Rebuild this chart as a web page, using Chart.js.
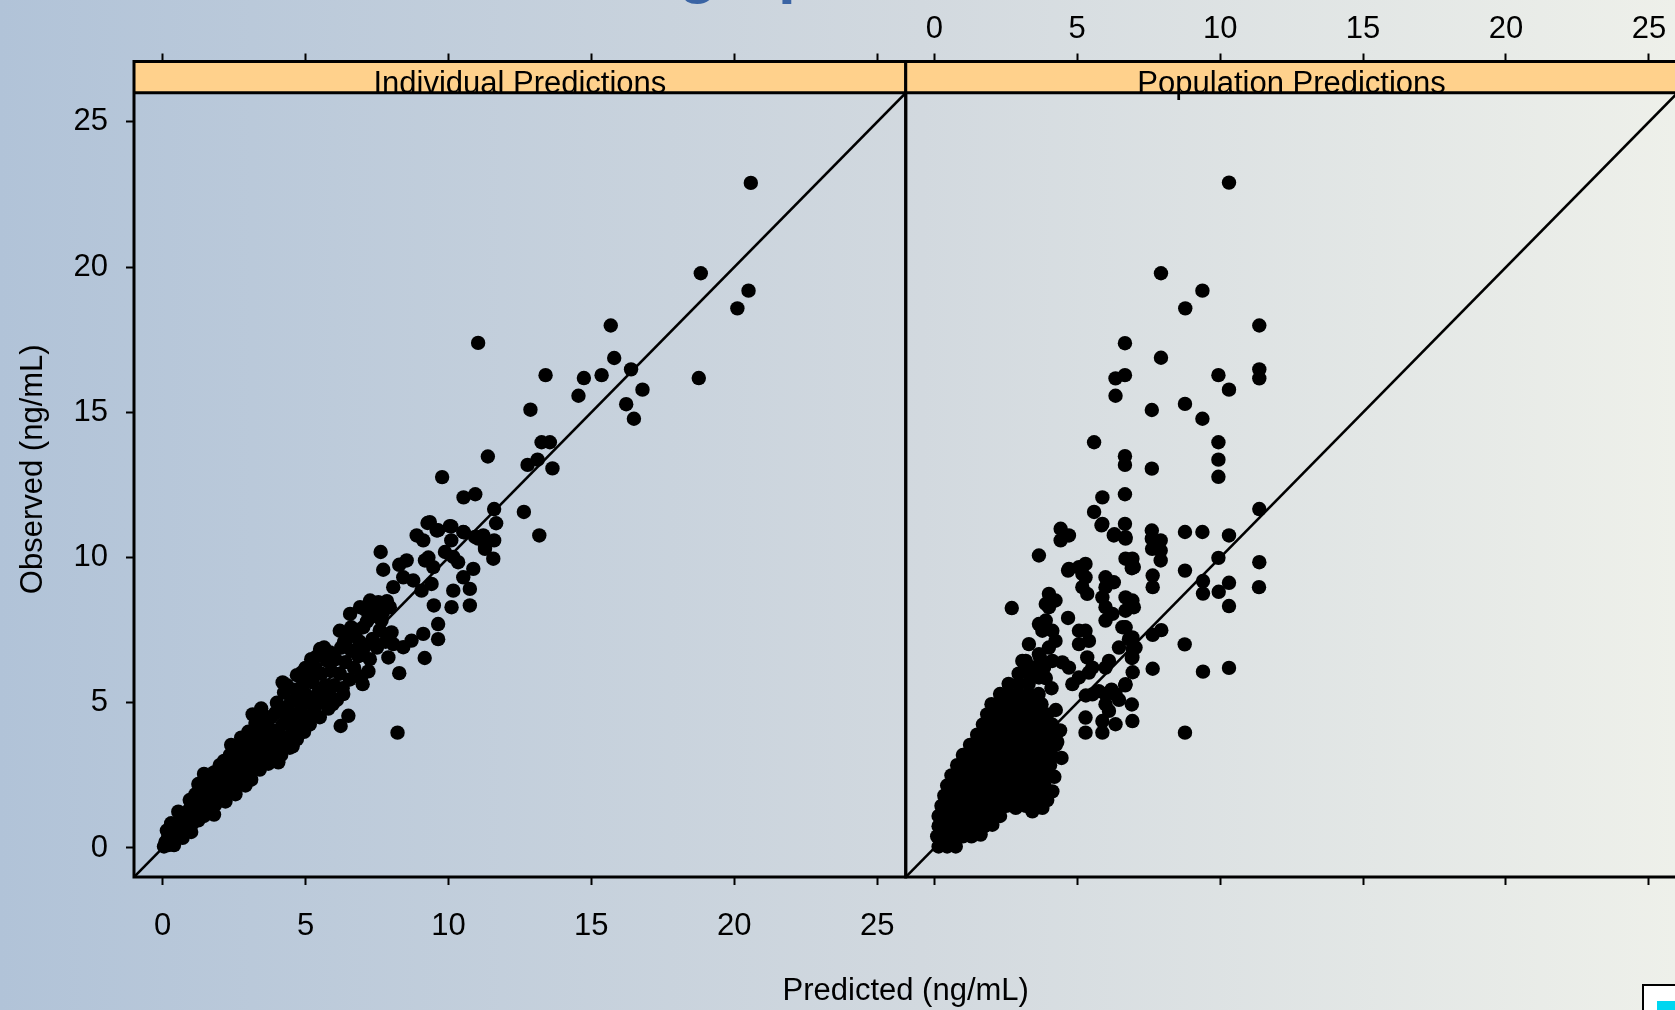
<!DOCTYPE html>
<html>
<head>
<meta charset="utf-8">
<title>Observed vs Predicted</title>
<script src="https://cdn.jsdelivr.net/npm/chart.js@4.4.1/dist/chart.umd.min.js"></script>
<style>
  html, body { margin: 0; padding: 0; overflow: hidden; }
  body {
    width: 1675px; height: 1010px; position: relative;
    background: linear-gradient(to right, #b1c3d8 0%, #d2d9df 55%, #eef0ea 100%);
  }
  #chart { position: absolute; left: 0; top: 0; }
</style>
</head>
<body>
<canvas id="chart" width="1700" height="1010"></canvas>
<script>
// ---- data ----
const panelNames = ['Individual Predictions', 'Population Predictions'];
const tickValues = [0, 5, 10, 15, 20, 25];
const axisMin = -1;
const axisMax = 26;
const xTitle = 'Predicted (ng/mL)';
const yTitle = 'Observed (ng/mL)';
const pageTitle = 'Goodness-of-fit graphs';
const identityLine = [[-1, -1], [26, 26]];

// Individual predictions: [predicted, observed]
const indivPoints = [
  [20.58,22.9],[18.83,19.79],[20.5,19.19],[20.11,18.58],[15.68,17.99],[11.04,17.39],[15.8,16.87],
  [16.39,16.48],[13.4,16.28],[14.74,16.18],[15.36,16.28],[18.76,16.18],[14.55,15.57],[16.79,15.78],
  [16.22,15.28],[16.49,14.78],[12.87,15.09],[13.26,13.97],[13.55,13.97],[11.38,13.48],[12.77,13.19],
  [13.12,13.37],[13.64,13.07],[9.78,12.77],[10.53,12.07],[10.94,12.18],[11.6,11.67],[12.64,11.57],
  [11.67,11.18],[11.6,10.59],[13.18,10.76],[10.1,11.07],[10.54,10.87],[11.07,10.7],[11.28,10.36],
  [10.1,10.59],[9.59,10.93],[9.35,11.22],
  [7.63,10.19],[7.72,9.58],[8.28,9.75],[8.54,9.9],[8.07,8.98],[8.42,9.32],[8.77,9.21],[9.06,8.86],
  [9.41,9.09],[9.49,8.35],[9.12,7.37],[9.64,7.71],[9.64,7.19],[9.17,6.54],[8.71,7.14],[8.42,6.91],
  [8.28,6.02],[7.2,6.08],[7.0,5.64],[7.9,6.56],[8.07,7.02],[8.01,7.42],[6.32,5.3],[6.5,4.55],
  [6.23,4.2],[8.22,3.97],[6.2,7.48],[6.56,8.06],[6.91,8.29],[7.26,8.52],[7.55,8.46],[4.87,6.04],
  [5.22,6.33],[5.51,6.85],[5.86,6.73],[6.73,7.42],[7.02,7.6],[7.26,7.94],[7.66,7.83],[7.95,8.29],
  [10.75,8.92],[10.75,8.35],[10.11,8.29],[10.17,8.86],[10.52,9.32],[10.87,9.61],[10.17,10.02],
  [9.88,10.19],[10.34,9.84],[9.3,10.0],[9.18,9.9],[9.47,9.67],[11.28,10.3],[11.57,9.96],[11.04,10.65],
  [8.89,10.76],[9.12,10.59],[9.64,10.94],[10.05,11.08],[10.52,10.88],[10.93,10.71],[11.22,10.76],[9.27,11.19],
  [0.05,0.05],[0.1,0.2],[0.2,0.1],[0.2,0.4],[0.3,0.25],[0.35,0.6],[0.45,0.4],[0.5,0.75],[0.6,0.55],
  [0.6,0.95],[0.7,0.75],[0.75,1.15],[0.85,0.7],[0.9,1.0],[0.95,1.35],[0.4,0.1],[0.7,0.35],
  [0.3,0.85],[0.55,1.25],[1.0,0.55],[0.15,0.6],
  [1.0,1.2],[1.05,0.85],[1.1,1.55],[1.2,1.25],[1.25,0.95],[1.3,1.7],[1.4,1.4],[1.45,1.1],[1.5,1.9],
  [1.55,1.6],[1.65,1.35],[1.7,2.05],[1.75,1.75],[1.85,1.5],[1.9,2.3],[1.95,1.95],[1.35,2.0],[1.6,2.3],[1.15,1.85],
  [0.95,1.65],[1.25,2.2],[1.5,1.2],[1.8,1.15],[1.45,2.55],[1.8,2.6],
  [2.0,1.65],[2.05,2.5],[2.1,2.15],[2.2,2.7],[2.25,2.35],[2.3,1.95],[2.4,2.8],[2.45,2.5],[2.5,2.1],
  [2.55,3.0],[2.6,2.65],[2.7,2.3],[2.75,3.15],[2.8,2.85],[2.85,2.45],[2.9,3.35],[2.95,3.0],[2.15,3.0],
  [2.35,3.2],[2.65,3.45],[2.0,2.85],[2.9,2.15],[2.2,1.6],[2.55,1.85],[2.4,3.55],[2.75,3.8],
  [3.0,2.6],[3.05,3.5],[3.1,3.15],[3.15,2.8],[3.2,3.7],[3.25,3.3],[3.3,2.95],[3.35,3.9],[3.4,3.5],
  [3.45,3.1],[3.5,4.1],[3.55,3.7],[3.6,3.3],[3.65,4.3],[3.7,3.9],[3.75,3.45],[3.8,4.5],[3.85,4.05],
  [3.9,3.6],[3.95,4.65],[3.0,4.0],[3.25,4.3],[3.55,4.55],[3.4,2.7],[3.85,3.15],[3.7,2.9],[3.1,2.35],
  [3.45,4.8],[3.15,4.6],
  [4.0,4.05],[4.05,3.6],[4.1,4.7],[4.15,3.2],[4.2,4.25],[4.25,5.35],[4.3,3.8],[4.35,4.85],[4.4,4.4],
  [4.45,3.45],[4.5,5.05],[4.55,4.0],[4.6,4.6],[4.65,5.45],[4.7,3.75],[4.75,5.15],[4.8,4.3],[4.85,4.85],
  [4.9,5.6],[4.95,4.0],[4.05,2.95],[4.55,3.5],[4.35,5.6],[4.0,5.0],[4.7,5.95],[4.2,5.7],
  [5.0,5.3],[5.05,4.5],[5.1,5.95],[5.15,4.25],[5.2,5.0],[5.25,5.7],[5.3,4.7],[5.35,6.2],[5.45,5.35],
  [5.5,4.5],[5.55,6.0],[5.6,5.0],[5.7,5.6],[5.75,6.45],[5.8,4.8],[5.85,5.25],[5.9,6.1],[5.95,4.95],
  [5.4,6.6],[5.65,6.9],[5.2,6.5],[5.0,6.2],
  [6.0,5.6],[6.05,6.5],[6.1,5.1],[6.2,6.0],[6.25,6.9],[6.3,5.5],[6.4,6.4],[6.45,7.2],[6.55,5.8],
  [6.6,6.8],[6.7,6.2],[6.8,7.5],[6.85,6.6],[6.95,5.9],[6.6,7.6],[6.35,7.1],[6.9,7.1],
  [7.05,6.9],[7.15,7.8],[7.25,6.5],[7.35,7.2],[7.45,8.0],[7.5,6.9],[7.6,7.5],[7.7,8.1],[7.8,7.1],
  [7.85,8.5],[7.4,8.3],[7.1,8.2]
];

// Population predictions: [predicted, observed]
const popPoints = [
  [10.31,22.91],[7.93,19.79],[9.38,19.19],[8.78,18.58],[11.37,17.99],[6.67,17.38],[7.93,16.88],
  [6.34,16.17],[6.67,16.28],[6.34,15.57],[9.94,16.28],[10.31,15.78],[11.37,16.48],[11.37,16.17],
  [7.61,15.08],[8.77,15.29],[9.38,14.78],[5.59,13.97],[6.67,13.49],[6.67,13.19],[7.61,13.06],
  [9.94,13.97],[9.94,13.37],[9.94,12.78],[5.88,12.07],[6.67,12.18],[5.59,11.57],[5.88,11.16],
  [6.67,11.16],[4.42,10.99],[4.71,10.76],[4.42,10.59],[6.28,10.76],[6.69,10.65],[7.61,10.93],
  [7.61,10.65],[7.92,10.59],[7.62,10.3],[7.92,10.24],[7.92,9.9],[8.77,10.88],[9.38,10.88],
  [10.31,10.76],[11.37,11.67],[9.94,9.99],[11.37,9.84],[3.66,10.07],[6.69,9.96],[6.93,9.96],
  [4.71,9.61],[5.29,9.78],[8.77,9.55],[6.91,9.63],[7.64,9.38],[7.64,8.98],[9.4,9.19],[9.4,8.76],
  [9.95,8.82],[10.31,9.13],[11.36,8.98],[10.31,8.33],[7.64,7.34],[7.94,7.5],[8.76,7.01],[7.64,6.17],
  [9.4,6.07],[10.31,6.2],[6.68,5.6],[6.91,4.94],[6.3,5.31],[6.68,7.59],[6.91,7.22],[6.94,6.85],
  [6.91,6.54],[6.94,6.05],[6.3,10.8],[5.85,11.11],[8.77,3.97],[6.93,4.37],[5.29,4.49],[5.29,3.97],
  [5.88,3.97],[6.34,4.26],[6.11,4.72],[5.53,5.29],[6.34,5.29],[5.99,4.95],[5.88,4.37],[6.69,5.64],
  [6.93,6.56],[7.04,6.9],[6.93,7.25],[6.69,7.6],[6.98,9.67],[6.69,10.7],[4.68,9.55],[5.18,9.44],
  [2.71,8.26],[4.68,7.92],[4.01,8.75],[4.13,8.52],[4.01,8.29],[5.06,9.67],[5.29,9.32],[5.18,8.98],
  [5.35,8.75],[5.99,9.32],[6.28,9.15],[5.99,8.98],[5.88,8.63],[5.99,8.29],[6.23,8.06],[5.99,7.83],
  [6.69,8.63],[6.93,8.52],[6.98,8.29],[6.69,8.17],[6.58,7.6],[6.81,7.19],[6.46,6.9],[6.11,6.44],
  [5.99,6.21],[5.29,7.48],[5.41,7.13],[5.06,7.02],[5.35,6.56],[5.53,6.21],[5.41,6.04],[5.06,5.87],
  [4.83,5.64],[4.71,6.21],[4.48,6.39],[4.13,6.44],[3.84,6.21],[3.66,5.87],[3.43,6.21],[3.2,6.44],
  [3.66,6.67],[4.01,6.9],[4.24,7.13],[3.78,7.48],[3.66,7.71],[3.9,7.83],[4.13,7.48],[3.9,8.4],
  [4.24,8.52],[3.31,7.02],[3.08,6.44],[5.06,7.48],[5.99,5.3],[6.46,5.1],[5.3,5.25],[5.75,5.4],
  [6.2,5.45],[4.13,1.95],[3.78,1.38],[3.43,1.26],[2.85,1.38],[2.03,0.8],[1.62,0.46],
  [4.3,3.65],[4.45,3.1],[4.2,2.45],[3.95,1.65],[4.25,4.75],[4.1,5.5],[3.9,5.85],[3.7,6.55],[4.4,4.05],
  [0.15,0.05],[0.45,0.05],[0.75,0.05],
  [0.1,0.4],[0.4,0.4],[0.7,0.4],[1.0,0.4],[1.3,0.4],
  [0.15,0.75],[0.45,0.75],[0.78,0.75],[1.1,0.75],[1.42,0.75],[1.75,0.75],
  [0.15,1.1],[0.45,1.1],[0.78,1.1],[1.1,1.1],[1.42,1.1],[1.75,1.1],[2.05,1.1],[2.3,1.1],
  [0.25,1.45],[0.58,1.45],[0.9,1.45],[1.22,1.45],[1.55,1.45],[1.88,1.45],[2.2,1.45],[2.52,1.45],[2.85,1.45],[3.2,1.45],[3.5,1.45],
  [0.35,1.8],[0.7,1.8],[1.05,1.8],[1.4,1.8],[1.75,1.8],[2.1,1.8],[2.45,1.8],[2.8,1.8],[3.15,1.8],[3.48,1.8],[3.75,1.8],
  [0.45,2.15],[0.8,2.15],[1.15,2.15],[1.5,2.15],[1.85,2.15],[2.2,2.15],[2.55,2.15],[2.9,2.15],[3.25,2.15],[3.6,2.15],[3.85,2.15],
  [0.6,2.5],[0.95,2.5],[1.3,2.5],[1.65,2.5],[2.0,2.5],[2.35,2.5],[2.7,2.5],[3.05,2.5],[3.4,2.5],[3.72,2.5],[3.95,2.5],
  [0.8,2.85],[1.12,2.85],[1.45,2.85],[1.8,2.85],[2.15,2.85],[2.5,2.85],[2.85,2.85],[3.2,2.85],[3.55,2.85],[3.85,2.85],[4.05,2.85],
  [1.0,3.2],[1.35,3.2],[1.7,3.2],[2.05,3.2],[2.4,3.2],[2.75,3.2],[3.1,3.2],[3.45,3.2],[3.8,3.2],[4.1,3.2],
  [1.25,3.55],[1.6,3.55],[1.95,3.55],[2.3,3.55],[2.65,3.55],[3.0,3.55],[3.35,3.55],[3.7,3.55],[4.0,3.55],[4.25,3.55],
  [1.5,3.9],[1.82,3.9],[2.15,3.9],[2.5,3.9],[2.85,3.9],[3.2,3.9],[3.55,3.9],[3.9,3.9],[4.2,3.9],
  [1.7,4.25],[2.05,4.25],[2.4,4.25],[2.75,4.25],[3.1,4.25],[3.45,4.25],[3.8,4.25],[4.12,4.25],
  [1.85,4.6],[2.2,4.6],[2.55,4.6],[2.9,4.6],[3.25,4.6],[3.6,4.6],[3.95,4.6],
  [2.0,4.95],[2.35,4.95],[2.7,4.95],[3.05,4.95],[3.4,4.95],[3.75,4.95],
  [2.3,5.3],[2.62,5.3],[2.95,5.3],[3.3,5.3],[3.65,5.3],
  [2.6,5.65],[2.95,5.65],[3.3,5.65],
  [2.95,6.0],[3.3,6.0],
  [3.15,6.35]
];

// ---- styling ----
const FONT_FAMILY = 'Arial, "Liberation Sans", Helvetica, sans-serif';
const labelFont = { family: FONT_FAMILY, size: 31, weight: 'normal' };
const bottomTickFont = { family: FONT_FAMILY, size: 31, weight: 'normal', lineHeight: 1.4 };
const stripColor = '#ffd18c';
const yTop = 27.08; // room for the strip above the panel
const dotRadius = 7.2;

Chart.defaults.font.family = FONT_FAMILY;

function fixTicks(scale) {
  scale.ticks = tickValues.map(v => ({ value: v }));
}

function xScale(position, showLabels, pad) {
  return {
    type: 'linear',
    position: position,
    stack: 'panels',
    stackWeight: 1,
    min: axisMin,
    max: axisMax,
    afterBuildTicks: fixTicks,
    afterFit: s => { s.height = position === 'bottom' ? 95.8 : 61.5; },
    border: { display: false },
    grid: { drawOnChartArea: false, drawTicks: true, tickLength: 8, tickWidth: 2, tickColor: '#000' },
    ticks: {
      display: showLabels, color: '#000', padding: pad, maxRotation: 0, autoSkip: false,
      font: position === 'bottom' ? bottomTickFont : labelFont
    }
  };
}

const toXY = pts => pts.map(p => ({ x: p[0], y: p[1] }));

// strips, frames and other decoration
const panelDecor = {
  id: 'panelDecor',
  afterDatasetsDraw(chart) {
    const ctx = chart.ctx;
    const area = chart.chartArea;
    const stripBottom = chart.scales.y.getPixelForValue(axisMax);
    ['xL', 'xR'].forEach((id, i) => {
      const s = chart.scales[id];
      ctx.save();
      ctx.fillStyle = stripColor;
      ctx.fillRect(s.left, area.top, s.right - s.left, stripBottom - area.top);
      ctx.strokeStyle = '#000';
      ctx.lineWidth = 3;
      ctx.strokeRect(s.left, area.top, s.right - s.left, area.bottom - area.top);
      ctx.beginPath();
      ctx.moveTo(s.left, stripBottom);
      ctx.lineTo(s.right, stripBottom);
      ctx.stroke();
      ctx.fillStyle = '#000';
      ctx.font = '31px ' + FONT_FAMILY;
      ctx.textAlign = 'center';
      ctx.textBaseline = 'alphabetic';
      ctx.fillText(panelNames[i], (s.left + s.right) / 2, stripBottom + 0.5);
      ctx.restore();
    });
  },
  afterDraw(chart) {
    const ctx = chart.ctx;
    ctx.save();
    // title, mostly above the visible area
    ctx.font = 'bold 64px ' + FONT_FAMILY;
    ctx.fillStyle = '#3a64a4';
    ctx.textBaseline = 'alphabetic';
    const lead = ctx.measureText('Goodness-of-fit ').width;
    const gW = ctx.measureText('g').width;
    ctx.fillText(pageTitle, 698 - lead - gW / 2, -9.5);
    // logo corner, bottom right
    ctx.fillStyle = '#ffffff';
    ctx.fillRect(1643, 985, 60, 40);
    ctx.strokeStyle = '#000';
    ctx.lineWidth = 2;
    ctx.strokeRect(1643, 985, 60, 40);
    ctx.fillStyle = '#00d6f0';
    ctx.fillRect(1657, 1001, 40, 20);
    ctx.restore();
  }
};

new Chart(document.getElementById('chart'), {
  type: 'scatter',
  data: {
    datasets: [
      { data: toXY(indivPoints), xAxisID: 'xL', yAxisID: 'y', pointRadius: dotRadius,
        pointBackgroundColor: '#000', pointBorderWidth: 0, order: 1 },
      { data: toXY(popPoints), xAxisID: 'xR', yAxisID: 'y', pointRadius: dotRadius,
        pointBackgroundColor: '#000', pointBorderWidth: 0, order: 1 },
      { data: toXY(identityLine), xAxisID: 'xL', yAxisID: 'y', showLine: true, pointRadius: 0,
        borderColor: '#000', borderWidth: 2.6, order: 2 },
      { data: toXY(identityLine), xAxisID: 'xR', yAxisID: 'y', showLine: true, pointRadius: 0,
        borderColor: '#000', borderWidth: 2.6, order: 2 }
    ]
  },
  options: {
    responsive: false,
    animation: false,
    events: [],
    layout: { padding: { left: 0, right: 22, top: 0, bottom: 0 } },
    scales: {
      xL: xScale('bottom', true, 20),
      xR: xScale('bottom', false, 20),
      // top boxes are laid out in reverse order: the first one ends up on the right panel
      xTopRight: xScale('top', true, 5),
      xTopLeft: xScale('top', false, 5),
      y: {
        type: 'linear',
        position: 'left',
        min: axisMin,
        max: yTop,
        afterBuildTicks: fixTicks,
        afterFit: s => { s.width = 134; },
        border: { display: false },
        grid: { drawOnChartArea: false, drawTicks: true, tickLength: 8, tickWidth: 2, tickColor: '#000' },
        ticks: { color: '#000', font: labelFont, padding: 18 },
        title: { display: true, text: yTitle, color: '#000', font: labelFont, padding: { top: 15, bottom: 0 } }
      }
    },
    plugins: {
      legend: { display: false },
      tooltip: { enabled: false },
      title: {
        display: true,
        position: 'bottom',
        fullSize: false,
        text: xTitle,
        color: '#000',
        font: labelFont,
        padding: { top: 0, bottom: 0 }
      }
    }
  },
  plugins: [panelDecor]
});
</script>
</body>
</html>
